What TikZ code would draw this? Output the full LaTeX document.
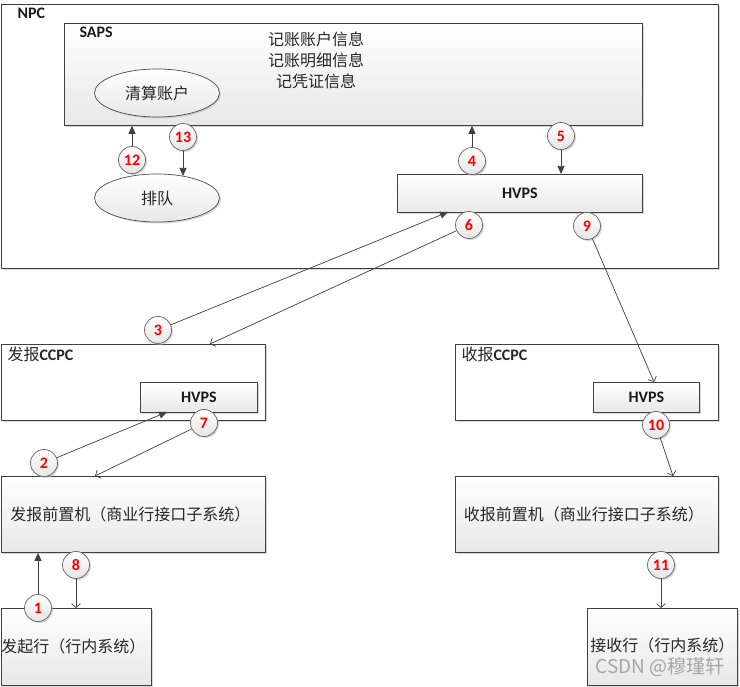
\documentclass[tikz,border=0pt]{standalone}
\usepackage{fontspec}
\setmainfont{Noto Sans CJK SC}
\newfontfamily\lat{Carlito}
\usetikzlibrary{arrows.meta,shadows,shapes.geometric}
\begin{document}
\begin{tikzpicture}[x=1pt,y=-1pt,
  shad/.style={drop shadow={shadow xshift=1.5pt,shadow yshift=-1.5pt,fill=black!30,opacity=0.5}},
  plainbox/.style={draw=black!75,line width=0.8pt,fill=white,shad,inner sep=0pt,anchor=north west},
  gbox/.style={plainbox,top color=white,bottom color=black!9},
  oval/.style={ellipse,draw=black!70,line width=0.7pt,top color=white,bottom color=black!9,shad,minimum width=125pt,minimum height=48pt,inner sep=0pt},
  num/.style={circle,draw=black!60,line width=0.7pt,top color=white,bottom color=black!10,shad,minimum size=27pt,inner sep=0pt,text=red,font=\lat\bfseries\fontsize{16}{16}\selectfont},
  cjk/.style={font=\fontsize{16}{21}\selectfont,text=black!85},
  lbl/.style={font=\lat\bfseries\fontsize{16}{16}\selectfont,text=black!90},
  conn/.style={draw=black!75,line width=0.7pt},
  fa/.style={conn,-{Triangle[length=8pt,width=7pt]}},
  oa/.style={conn,-{Straight Barb[length=4pt,width=9pt]}}]
\useasboundingbox (0,0) rectangle (740,687);
% boxes
\node[plainbox,minimum width=717pt,minimum height=264pt] (npc) at (1,4) {};
\node[lbl,anchor=west] (npclbl) at (14,13) {NPC};
\node[gbox,minimum width=578pt,minimum height=102pt] (saps) at (64,23) {};
\node[lbl,anchor=west] (sapslbl) at (76,32) {SAPS};
\node[cjk,align=center] (info) at (316,60) {记账账户信息\\记账明细信息\\记凭证信息};
\node[oval] (acct) at (157,93) {};
\node[cjk] at (acct) {清算账户};
\node[oval] (queue) at (157,198) {};
\node[cjk] at (queue) {排队};
\node[gbox,minimum width=245pt,minimum height=38pt] (nhvps) at (397,174) {};
\node[lbl] at (nhvps) {HVPS};

\node[plainbox,minimum width=264pt,minimum height=76pt] (sccpc) at (1,344) {};
\node[cjk,anchor=west] (sccpclbl) at (4,354) {发报{\lat\bfseries CCPC}};
\node[gbox,minimum width=117pt,minimum height=30pt] (shvps) at (140,382) {};
\node[lbl] at (shvps) {HVPS};

\node[plainbox,minimum width=263pt,minimum height=76pt] (rccpc) at (455,344) {};
\node[cjk,anchor=west] (rccpclbl) at (458,354) {收报{\lat\bfseries CCPC}};
\node[gbox,minimum width=106pt,minimum height=30pt] (rhvps) at (593,382) {};
\node[lbl] at (rhvps) {HVPS};

\node[gbox,minimum width=264pt,minimum height=76pt] (sfep) at (1,476) {};
\node[cjk] at ([xshift=-3pt]sfep) {发报前置机（商业行接口子系统）};
\node[gbox,minimum width=263pt,minimum height=76pt] (rfep) at (455,476) {};
\node[cjk] at ([xshift=-3pt]rfep) {收报前置机（商业行接口子系统）};

\node[gbox,minimum width=150pt,minimum height=77pt] (sbank) at (1,608) {};
\node[cjk] at ([xshift=-3pt]sbank) {发起行（行内系统）};
\node[gbox,minimum width=150pt,minimum height=77pt] (rbank) at (587,608) {};
\node[cjk] at ([yshift=1pt]rbank) {接收行（行内系统）};
\node[font=\fontsize{19}{19}\selectfont,text=black!35] (wm) at (660,667) {CSDN @穆瑾轩};

% numbered circles
\node[num] (c1) at (38,608) {1};
\node[num] (c2) at (44,463) {2};
\node[num] (c3) at (158,330) {3};
\node[num] (c4) at (472,161) {4};
\node[num] (c5) at (561,136) {5};
\node[num] (c6) at (469,225) {6};
\node[num] (c7) at (204,423) {7};
\node[num] (c8) at (76,565) {8};
\node[num] (c9) at (587,226) {9};
\node[num] (c10) at (656,425) {10};
\node[num] (c11) at (661,565) {11};
\node[num] (c12) at (132,160) {12};
\node[num] (c13) at (183,137) {13};

% end points
\coordinate (t2) at (167,412);
\coordinate (t3) at (448,212);
\coordinate (t6) at (210,344);
\coordinate (t7) at (95,476);
\coordinate (t9) at (654,382);
\coordinate (t10) at (673,476);
\coordinate (t13) at (183,176);

% connectors
\draw[fa] (c1) -- (c1 |- sfep.south);
\draw[fa] (c2) -- (t2);
\draw[fa] (c3) -- (t3);
\draw[fa] (c4) -- (c4 |- saps.south);
\draw[fa] (c5) -- (c5 |- nhvps.north);
\draw[oa] (c6) -- (t6);
\draw[oa] (c7) -- (t7);
\draw[oa] (c8) -- (c8 |- sbank.north);
\draw[oa] (c9) -- (t9);
\draw[oa] (c10) -- (t10);
\draw[oa] (c11) -- (c11 |- rbank.north);
\draw[fa] (c12) -- (c12 |- saps.south);
\draw[fa] (c13) -- (t13);
\end{tikzpicture}
\end{document}
